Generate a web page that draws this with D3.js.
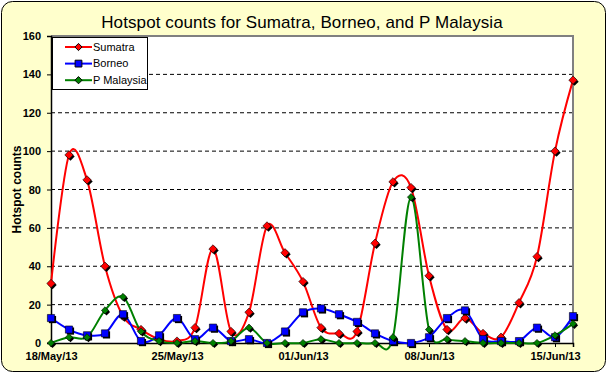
<!DOCTYPE html>
<html>
<head>
<meta charset="utf-8">
<script src="https://cdn.jsdelivr.net/npm/d3@7"></script>
<style>
  body { margin: 0; background: #fff; }
  svg { display: block; font-family: "Liberation Sans", Arial, sans-serif; }
</style>
</head>
<body>
<svg id="chart" width="607" height="374"></svg>
<script>
// daily hotspot counts, 18 May - 16 Jun 2013
let dates = ["2013-05-18","2013-05-19","2013-05-20","2013-05-21","2013-05-22","2013-05-23",
             "2013-05-24","2013-05-25","2013-05-26","2013-05-27","2013-05-28","2013-05-29",
             "2013-05-30","2013-05-31","2013-06-01","2013-06-02","2013-06-03","2013-06-04",
             "2013-06-05","2013-06-06","2013-06-07","2013-06-08","2013-06-09","2013-06-10",
             "2013-06-11","2013-06-12","2013-06-13","2013-06-14","2013-06-15","2013-06-16"];

let sumatra  = [31, 98, 85, 40, 14, 7, 2, 1, 8, 49, 6, 16, 61, 47, 32, 8, 5, 6, 52, 84, 81, 35, 7, 13, 5, 3, 21, 45, 100, 137];
let borneo   = [13, 7, 4, 5, 15, 1, 4, 13, 2, 8, 1, 2, 0, 6, 16, 18, 15, 11, 5, 1, 0, 3, 13, 17, 2, 1, 1, 8, 3, 14];
let malaysia = [0, 3, 3, 17, 24, 6, 1, 0, 1, 0, 1, 8, 0, 0, 0, 2, 0, 0, 0, 3, 76, 7, 2, 1, 0, 0, 0, 0, 4, 10];

let tick_dates = ["2013-05-18","2013-05-25","2013-06-01","2013-06-08","2013-06-15"];
let y_ticks = [0, 20, 40, 60, 80, 100, 120, 140, 160];

let series = [
    { name: "Sumatra",    values: sumatra,  color: "#ff0000", shape: "diamond", size: 4.2 },
    { name: "Borneo",     values: borneo,   color: "#0000ff", shape: "square",  size: 3.6 },
    { name: "P Malaysia", values: malaysia, color: "#008000", shape: "diamond", size: 3.6 }
];

let parse = d3.timeParse("%Y-%m-%d");

let svg = d3.select("#chart");

// chart background
svg.append("rect")
    .attr("x", 1.5).attr("y", 1.5)
    .attr("width", 604).attr("height", 370)
    .attr("rx", 11).attr("ry", 11)
    .attr("fill", "#ffffcc")
    .attr("stroke", "#000").attr("stroke-width", 1);

let p_left = 51, p_right = 573, p_top = 36, p_bottom = 343;

let x = d3.scaleTime()
    .domain([parse(dates[0]), parse(dates[dates.length - 1])])
    .range([p_left, p_right]);
let y = d3.scaleLinear().domain([0, 160]).range([p_bottom, p_top]);

// plot area
svg.append("rect")
    .attr("x", p_left).attr("y", p_top)
    .attr("width", p_right - p_left).attr("height", p_bottom - p_top)
    .attr("fill", "#fff");

// gridlines
svg.append("g")
    .selectAll("line")
    .data(y_ticks.filter(function(d){ return d > 0 && d < 160; }))
    .enter().append("line")
        .attr("x1", p_left).attr("x2", p_right)
        .attr("y1", function(d){ return y(d); })
        .attr("y2", function(d){ return y(d); })
        .attr("stroke", "#000")
        .attr("stroke-width", 1)
        .attr("stroke-dasharray", "4,3");

// gray frame on top and right
svg.append("path")
    .attr("d", "M" + p_left + "," + p_top + "H" + p_right + "V" + p_bottom)
    .attr("fill", "none")
    .attr("stroke", "#808080")
    .attr("stroke-width", 2);

// axes
let y_axis = svg.append("g")
    .attr("transform", "translate(" + p_left + ",0)")
    .call(d3.axisLeft(y).tickValues(y_ticks).tickSize(4).tickPadding(6));
let x_axis = svg.append("g")
    .attr("transform", "translate(0," + p_bottom + ")")
    .call(d3.axisBottom(x)
        .tickValues(tick_dates.map(parse))
        .tickFormat(d3.timeFormat("%d/%b/%y"))
        .tickSize(4).tickPadding(5));

[y_axis, x_axis].forEach(function(ax){
    ax.select(".domain").attr("stroke", "#000").attr("stroke-width", 1.5);
    ax.selectAll(".tick line").attr("stroke", "#000");
    ax.selectAll("text")
        .attr("fill", "#000")
        .style("font-family", "Liberation Sans, Arial, sans-serif")
        .style("font-size", "11px")
        .style("font-weight", "bold");
});

// lines + markers
let line_gen = function(values){
    return d3.line()
        .x(function(d, i){ return x(parse(dates[i])); })
        .y(function(d){ return y(d); })
        .curve(d3.curveCardinal.tension(0))(values);
};

function marker_path(shape, s){
    if (shape === "square") return "M" + (-s) + "," + (-s) + "h" + (2*s) + "v" + (2*s) + "h" + (-2*s) + "Z";
    return "M0," + (-s) + "L" + s + ",0L0," + s + "L" + (-s) + ",0Z";
}

let plot_g = svg.append("g");

series.forEach(function(s){
    plot_g.append("path")
        .attr("d", line_gen(s.values))
        .attr("fill", "none")
        .attr("stroke", s.color)
        .attr("stroke-width", 2);
});

series.forEach(function(s){
    let g = plot_g.append("g");
    s.values.forEach(function(v, i){
        let px = x(parse(dates[i])), py = y(v);
        g.append("path")
            .attr("d", marker_path(s.shape, s.size))
            .attr("transform", "translate(" + (px + 1.5) + "," + (py + 1.5) + ")")
            .attr("fill", "#000");
        g.append("path")
            .attr("d", marker_path(s.shape, s.size))
            .attr("transform", "translate(" + px + "," + py + ")")
            .attr("fill", s.color)
            .attr("stroke", "#000")
            .attr("stroke-width", 0.6);
    });
});

// legend
let legend = svg.append("g");
legend.append("rect")
    .attr("x", 52.5).attr("y", 37.5)
    .attr("width", 95).attr("height", 52)
    .attr("fill", "#fff")
    .attr("stroke", "#000").attr("stroke-width", 1);

series.forEach(function(s, i){
    let ly = 47 + i * 16.6;
    legend.append("line")
        .attr("x1", 65).attr("x2", 92)
        .attr("y1", ly).attr("y2", ly)
        .attr("stroke", s.color).attr("stroke-width", 2);
    legend.append("path")
        .attr("d", marker_path(s.shape, s.shape === "square" ? 3.4 : 3.6))
        .attr("transform", "translate(78.5," + ly + ")")
        .attr("fill", s.color)
        .attr("stroke", "#000").attr("stroke-width", 1);
    legend.append("text")
        .attr("x", 93).attr("y", ly + 3.8)
        .style("font-size", "11px")
        .text(s.name);
});

// titles
svg.append("text")
    .attr("x", 302).attr("y", 28)
    .attr("text-anchor", "middle")
    .style("font-size", "17px")
    .style("letter-spacing", "0.1px")
    .text("Hotspot counts for Sumatra, Borneo, and P Malaysia");

svg.append("text")
    .attr("transform", "translate(21," + ((p_top + p_bottom) / 2) + ") rotate(-90)")
    .attr("text-anchor", "middle")
    .style("font-size", "12px")
    .style("font-weight", "bold")
    .text("Hotspot counts");
</script>
</body>
</html>
